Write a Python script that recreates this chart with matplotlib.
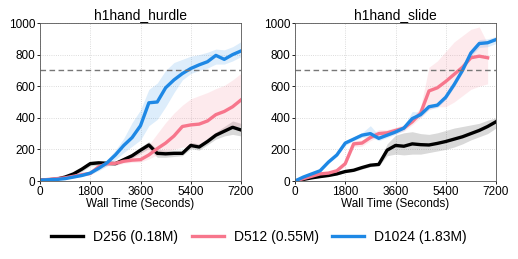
import matplotlib
matplotlib.use("Agg")
import matplotlib.pyplot as plt
import numpy as np

plt.rcParams['font.family'] = ['Liberation Sans', 'DejaVu Sans']

x = np.arange(0, 7201, 300)

# h1hand_hurdle
hurdle_d256 = [5, 8, 12, 25, 45, 75, 110, 115, 112, 110, 135, 160, 195, 228, 175, 172, 175, 175, 225, 215, 250, 290, 315, 340, 323]
hurdle_d256_lo = [2, 5, 8, 18, 35, 60, 95, 100, 100, 100, 120, 145, 175, 205, 150, 150, 155, 160, 205, 195, 230, 265, 285, 295, 285]
hurdle_d256_hi = [8, 12, 16, 32, 55, 90, 125, 130, 125, 120, 150, 175, 215, 250, 200, 195, 195, 195, 245, 235, 270, 310, 345, 380, 365]
hurdle_d512 = [5, 10, 15, 20, 30, 40, 48, 90, 110, 112, 125, 132, 135, 165, 205, 240, 285, 345, 355, 360, 380, 420, 440, 470, 513]
hurdle_d512_lo = [2, 6, 10, 15, 22, 30, 38, 75, 95, 100, 112, 118, 120, 140, 165, 185, 200, 215, 210, 230, 270, 300, 320, 340, 350]
hurdle_d512_hi = [8, 14, 20, 26, 38, 50, 60, 105, 125, 125, 140, 160, 180, 230, 300, 370, 430, 480, 520, 540, 560, 585, 605, 640, 681]
hurdle_d1024 = [5, 8, 10, 15, 25, 35, 50, 80, 115, 165, 225, 275, 350, 495, 500, 590, 640, 680, 712, 735, 755, 795, 770, 800, 823]
hurdle_d1024_lo = [2, 5, 7, 11, 20, 28, 40, 65, 95, 135, 180, 220, 260, 350, 390, 470, 560, 640, 680, 700, 715, 740, 740, 760, 787]
hurdle_d1024_hi = [8, 11, 13, 19, 30, 42, 60, 95, 135, 195, 270, 370, 450, 580, 620, 700, 750, 770, 790, 800, 815, 835, 830, 850, 882]

# h1hand_slide
slide_d256 = [0, 10, 20, 28, 35, 45, 60, 68, 85, 100, 105, 195, 225, 220, 235, 230, 228, 238, 250, 265, 280, 300, 320, 345, 375]
slide_d256_lo = [0, 8, 16, 22, 30, 40, 52, 60, 75, 90, 95, 160, 170, 165, 170, 170, 180, 190, 200, 215, 235, 260, 280, 300, 335]
slide_d256_hi = [0, 12, 24, 34, 42, 52, 68, 78, 95, 110, 118, 235, 290, 305, 312, 300, 295, 305, 320, 335, 345, 355, 365, 385, 400]
slide_d512 = [0, 15, 30, 45, 50, 65, 110, 235, 240, 275, 300, 305, 320, 335, 375, 430, 570, 590, 630, 675, 720, 780, 790, 780, np.nan]
slide_d512_lo = [0, 12, 25, 40, 45, 58, 95, 215, 220, 255, 280, 285, 300, 315, 355, 400, 450, 470, 470, 500, 540, 580, 600, 615, np.nan]
slide_d512_hi = [0, 18, 35, 50, 55, 72, 125, 255, 260, 295, 325, 325, 340, 355, 395, 470, 720, 760, 820, 880, 920, 960, 975, 870, np.nan]
slide_d1024 = [0, 25, 45, 65, 120, 165, 240, 265, 290, 300, 270, 290, 310, 335, 395, 420, 470, 480, 530, 610, 700, 810, 870, 875, 895]
slide_d1024_lo = [0, 20, 40, 58, 110, 155, 225, 255, 275, 280, 255, 275, 295, 320, 380, 405, 455, 465, 515, 595, 685, 790, 845, 850, 870]
slide_d1024_hi = [0, 30, 50, 72, 130, 175, 255, 280, 305, 350, 290, 305, 325, 350, 440, 435, 485, 495, 545, 625, 715, 830, 895, 900, 915]

titles = ["h1hand_hurdle", "h1hand_slide"]
labels = ["D256 (0.18M)", "D512 (0.55M)", "D1024 (1.83M)"]
colors = ["#000000", "#F7768C", "#1E88E5"]
xticks = [0, 1800, 3600, 5400, 7200]
yticks = [0, 200, 400, 600, 800, 1000]
threshold = 700

panels = [
    [(hurdle_d256, hurdle_d256_lo, hurdle_d256_hi),
     (hurdle_d512, hurdle_d512_lo, hurdle_d512_hi),
     (hurdle_d1024, hurdle_d1024_lo, hurdle_d1024_hi)],
    [(slide_d256, slide_d256_lo, slide_d256_hi),
     (slide_d512, slide_d512_lo, slide_d512_hi),
     (slide_d1024, slide_d1024_lo, slide_d1024_hi)],
]

fig = plt.figure(figsize=(5.18, 2.59), dpi=100)
ax1 = fig.add_axes([40/518, 1-181/259, 201/518, 158/259])
ax2 = fig.add_axes([295/518, 1-181/259, 201/518, 158/259])
axes = [ax1, ax2]

handles = []
for ax, title, series in zip(axes, titles, panels):
    for (m, lo, hi), c, lab in zip(series, colors, labels):
        m = np.array(m, dtype=float); lo = np.array(lo, dtype=float); hi = np.array(hi, dtype=float)
        ax.fill_between(x, lo, hi, color=c, alpha=0.15, linewidth=0)
        h, = ax.plot(x, m, color=c, lw=2.4, label=lab)
        if ax is ax1:
            handles.append(h)
    ax.axhline(threshold, color='#777777', ls='--', lw=1.0, dashes=(4, 2.5))
    ax.set_xlim(0, 7200)
    ax.set_ylim(0, 1000)
    ax.set_xticks(xticks)
    ax.set_yticks(yticks)
    ax.tick_params(labelsize=8.5, length=2, pad=1.5, width=0.6)
    ax.grid(True, color='#d0d0d0', lw=0.6, ls=':')
    ax.set_axisbelow(True)
    ax.set_title(title, fontsize=10, pad=3)
    ax.set_xlabel("Wall Time (Seconds)", fontsize=8.5, labelpad=0)
    for s in ax.spines.values():
        s.set_color('#555555')
        s.set_linewidth(0.6)

fig.legend(handles=handles, labels=labels, loc='center', bbox_to_anchor=(0.5, 1-237/259),
           ncol=3, frameon=False, fontsize=10, handlelength=2.3, columnspacing=1.0,
           handletextpad=0.7)

fig.savefig("out.png", dpi=100)
